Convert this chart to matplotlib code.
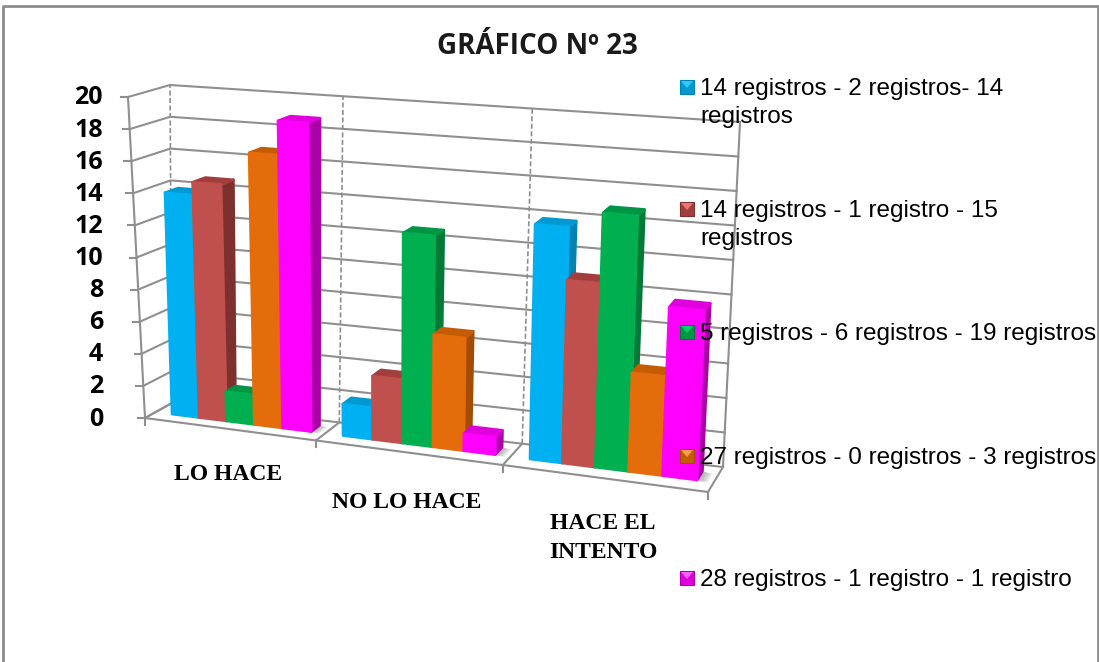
import matplotlib
matplotlib.use('Agg')
import matplotlib.pyplot as plt
from matplotlib.patches import Polygon, Rectangle

categories = ['LO HACE', 'NO LO HACE', 'HACE EL\nINTENTO']
y_ticks = [0, 2, 4, 6, 8, 10, 12, 14, 16, 18, 20]

serie_1 = [13.8, 1.9, 13.8]
serie_2 = [14.6, 3.8, 10.7]
serie_3 = [1.8, 12.6, 14.8]
serie_4 = [16.7, 6.7, 5.7]
serie_5 = [18.8, 1.0, 9.7]
series = [serie_1, serie_2, serie_3, serie_4, serie_5]

legend_labels = ['14 registros - 2 registros- 14\nregistros',
                 '14 registros - 1 registro - 15\nregistros',
                 '5 registros - 6 registros - 19 registros',
                 '27 registros - 0 registros - 3 registros',
                 '28 registros - 1 registro - 1 registro']
legend_y = [87, 209, 332, 456, 578]

front_colors = ['#00b0f0', '#c0504d', '#00b050', '#e46c0a', '#ff00ff']
side_colors = ['#0083b3', '#7d302e', '#007a37', '#a34c05', '#ab00a8']
top_colors = ['#0099d4', '#a23f3c', '#009544', '#c45c06', '#e000dd']
key_light = ['#30c8f8', '#e87878', '#00d068', '#f8a048', '#ff60ff']

# corners of the 3d box in pixels (front/back, bottom/top, left/right)
FBL, FBR = (145, 418), (708, 492)
BBL, BBR = (172, 403), (723, 467)
FTL, FTR = (128, 97), (724, 139)
BTL, BTR = (170, 85), (740, 122)

D_FRONT, D_BACK = 0.40, 0.75
GRID = '#8f8f8f'


def lerp(a, b, t):
    return (a[0] + (b[0] - a[0]) * t, a[1] + (b[1] - a[1]) * t)


# x category position 0-3, d depth 0-1, v value 0-20
def project(x, d, v):
    t = x / 3
    u = 0.872 * t / (1 - 0.128 * t)
    h = v / 20
    bottom = lerp(lerp(FBL, FBR, u), lerp(BBL, BBR, u), d)
    top = lerp(lerp(FTL, FTR, u), lerp(BTL, BTR, u), d)
    return lerp(bottom, top, h)


def draw_bar(ax, x0, x1, v, i):
    fl, fr = project(x0, D_FRONT, 0), project(x1, D_FRONT, 0)
    ftl, ftr = project(x0, D_FRONT, v), project(x1, D_FRONT, v)
    br, btr = project(x1, D_BACK, 0), project(x1, D_BACK, v)
    btl = project(x0, D_BACK, v)
    ax.add_patch(Polygon([fr, br, btr, ftr], fc=side_colors[i], ec=side_colors[i],
                         lw=2, joinstyle='round', zorder=5))
    ax.add_patch(Polygon([ftl, ftr, btr, btl], fc=top_colors[i], ec=top_colors[i],
                         lw=2, joinstyle='round', zorder=5))
    ax.add_patch(Polygon([fl, fr, ftr, ftl], fc=front_colors[i], ec=front_colors[i],
                         lw=2, joinstyle='round', zorder=5))


def draw_shadow(ax, x1):
    for k in range(4):
        s = 0.015 + 0.012 * k
        pts = [project(x1, D_FRONT, 0), project(x1 + s, D_FRONT - 0.05, 0),
               project(x1 + s, D_BACK - 0.05, 0), project(x1, D_BACK, 0)]
        ax.add_patch(Polygon(pts, fc='#808080', ec='none', alpha=0.2, zorder=2))


fig = plt.figure(figsize=(10.99, 6.62), dpi=100)
ax = fig.add_axes([0, 0, 1, 1])
ax.set_xlim(0, 1099)
ax.set_ylim(662, 0)
ax.axis('off')

# chart frame
ax.plot([3, 3, 1098, 1098], [662, 6, 6, 662], color='#8c8c8c', lw=2, zorder=1)

# gridlines on the walls
for v in y_ticks:
    p0, p1, p2 = project(0, 0, v), project(0, 1, v), project(3, 1, v)
    ax.plot([p0[0], p1[0], p2[0]], [p0[1], p1[1], p2[1]], color=GRID, lw=1.5, zorder=1)
    ax.plot([p0[0] - 7, p0[0]], [p0[1], p0[1]], color=GRID, lw=1.5, zorder=1)
    ax.text(103, p0[1] + 1, str(v), ha='right', va='center', fontsize=18,
            fontweight='bold', family='Open Sans', color='black', zorder=8)

# verticals on the walls and floor lines
p0, p1 = project(0, 0, 0), project(0, 0, 20)
ax.plot([p0[0], p1[0]], [p0[1], p1[1]], color=GRID, lw=1.5, zorder=1)
p0, p1 = project(3, 1, 0), project(3, 1, 20)
ax.plot([p0[0], p1[0]], [p0[1], p1[1]], color=GRID, lw=1.5, zorder=1)
for x in range(4):
    a, b, c = project(x, 0, 0), project(x, 1, 0), project(x, 1, 20)
    ax.plot([a[0], b[0]], [a[1], b[1]], color=GRID, lw=1.5, zorder=1)
    ax.plot([a[0], a[0]], [a[1], a[1] + 7], color=GRID, lw=1.5, zorder=1)
    if x < 3:
        ax.plot([b[0], c[0]], [b[1], c[1]], color=GRID, lw=1.2, ls=(0, (3, 1.5)), zorder=1)
a, b = project(0, 0, 0), project(3, 0, 0)
ax.plot([a[0], b[0]], [a[1], b[1]], color=GRID, lw=1.5, zorder=3)

# bars
n = len(series)
for g in range(len(categories)):
    draw_shadow(ax, g + 0.10 + n * 0.164)
    for i in range(n):
        x0 = g + 0.10 + i * 0.164
        draw_bar(ax, x0, x0 + 0.164, series[i][g], i)

# category labels
label_x = [228, 407, 603]
label_y = [475, 502, 538]
for name, lx, ly in zip(categories, label_x, label_y):
    ax.text(lx, ly, name, ha='center', va='center', fontsize=17, fontweight='bold',
            family='Liberation Serif', color='black', linespacing=1.45, zorder=8)

ax.text(537, 46, 'GRÁFICO Nº 23', ha='center', va='center', fontsize=20,
        fontweight='bold', family='Open Sans', color='#1a1a1a', zorder=8)

# legend
for i in range(n):
    ky = legend_y[i]
    ax.add_patch(Rectangle((680, ky - 7), 14, 14, fc=top_colors[i], ec=side_colors[i], lw=0.8, zorder=9))
    ax.add_patch(Polygon([(681, ky - 6), (693, ky - 6), (687, ky + 1)], fc=key_light[i],
                         ec='none', zorder=10))
    ax.text(700, ky - 9, legend_labels[i], ha='left', va='top', fontsize=17.5,
            family='Liberation Sans', color='black', linespacing=1.38, zorder=9)

fig.savefig('out.png', dpi=100)
